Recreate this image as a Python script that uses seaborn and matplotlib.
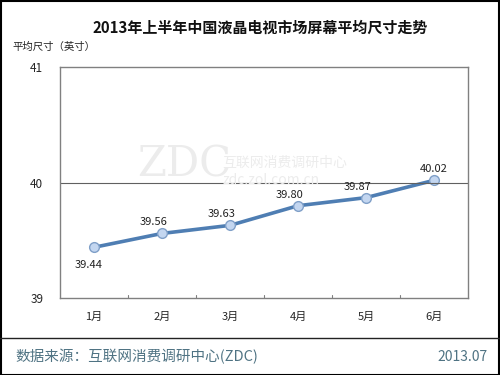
import numpy as np
import matplotlib
matplotlib.use('Agg')
import matplotlib.pyplot as plt
import pandas as pd
import seaborn as sns

months = ['1月', '2月', '3月', '4月', '5月', '6月']
avg_size = [39.44, 39.56, 39.63, 39.80, 39.87, 40.02]
y_ticks = [39, 40, 41]

sns.set_style('white')
plt.rcParams['font.family'] = ['Noto Sans CJK SC', 'DejaVu Sans']

df = pd.DataFrame({'month': months, 'size': avg_size})

fig = plt.figure(figsize=(5, 3.75), dpi=100)
ax = fig.add_axes([0.12, 0.205, 0.816, 0.616])

# watermark
fig.text(0.275, 0.53, 'ZDC', fontsize=30, color='#ececec', family='DejaVu Serif', zorder=0)
fig.text(0.445, 0.555, '互联网消费调研中心', fontsize=10, color='#ececec', zorder=0)
fig.text(0.445, 0.51, 'zdc.zol.com.cn', fontsize=10, color='#ececec', zorder=0)
ax.patch.set_alpha(0)

sns.lineplot(data=df, x='month', y='size', ax=ax, color='#4f7eb3', linewidth=2.6,
             marker='o', markersize=7, markerfacecolor='#c3d6f0',
             markeredgecolor='#7f9fc8', markeredgewidth=1, sort=False)

x = np.arange(len(months))
offsets = [(-4, -13), (-6, 8), (-6, 8), (-6, 8), (-6, 8), (0, 8)]
for xi, v, (dx, dy) in zip(x, avg_size, offsets):
    ax.annotate(f'{v:.2f}', (xi, v), xytext=(dx, dy), textcoords='offset points',
                ha='center', va='center', fontsize=8, color='#222222')

ax.set_xlim(-0.5, 5.5)
ax.set_ylim(39, 41)
ax.set_yticks(y_ticks)
ax.set_yticklabels([str(t) for t in y_ticks], fontsize=8.5)
ax.set_xticks(x)
ax.set_xticklabels(months, fontsize=8)
ax.tick_params(axis='x', length=0, pad=10)
ax.tick_params(axis='y', length=0, pad=12)
for b in np.arange(0.5, 5, 1):
    ax.plot([b, b], [39, 39.03], color='#808080', lw=0.8)
ax.axhline(40, color='#606060', lw=0.8)
ax.set_xlabel('')
ax.set_ylabel('')
for s in ax.spines.values():
    s.set_color('#808080')
    s.set_linewidth(1)

fig.text(0.52, 0.925, '2013年上半年中国液晶电视市场屏幕平均尺寸走势', ha='center',
         va='center', fontsize=10.8, fontweight='bold', color='#111111')
fig.text(0.024, 0.875, '平均尺寸（英寸）', ha='left', va='center', fontsize=7.5, color='#222222')

fig.add_artist(plt.Line2D([0, 1], [0.099, 0.099], color='#222222', lw=1))
fig.text(0.03, 0.048, '数据来源：互联网消费调研中心(ZDC)', ha='left', va='center',
         fontsize=10.5, color='#4f7383')
fig.text(0.975, 0.048, '2013.07', ha='right', va='center', fontsize=10, color='#4f7383')

fig.add_artist(plt.Rectangle((0.001, 0.001), 0.997, 0.997, fill=False,
                             edgecolor='black', lw=1.5, transform=fig.transFigure))

fig.savefig('out.png', dpi=100)
